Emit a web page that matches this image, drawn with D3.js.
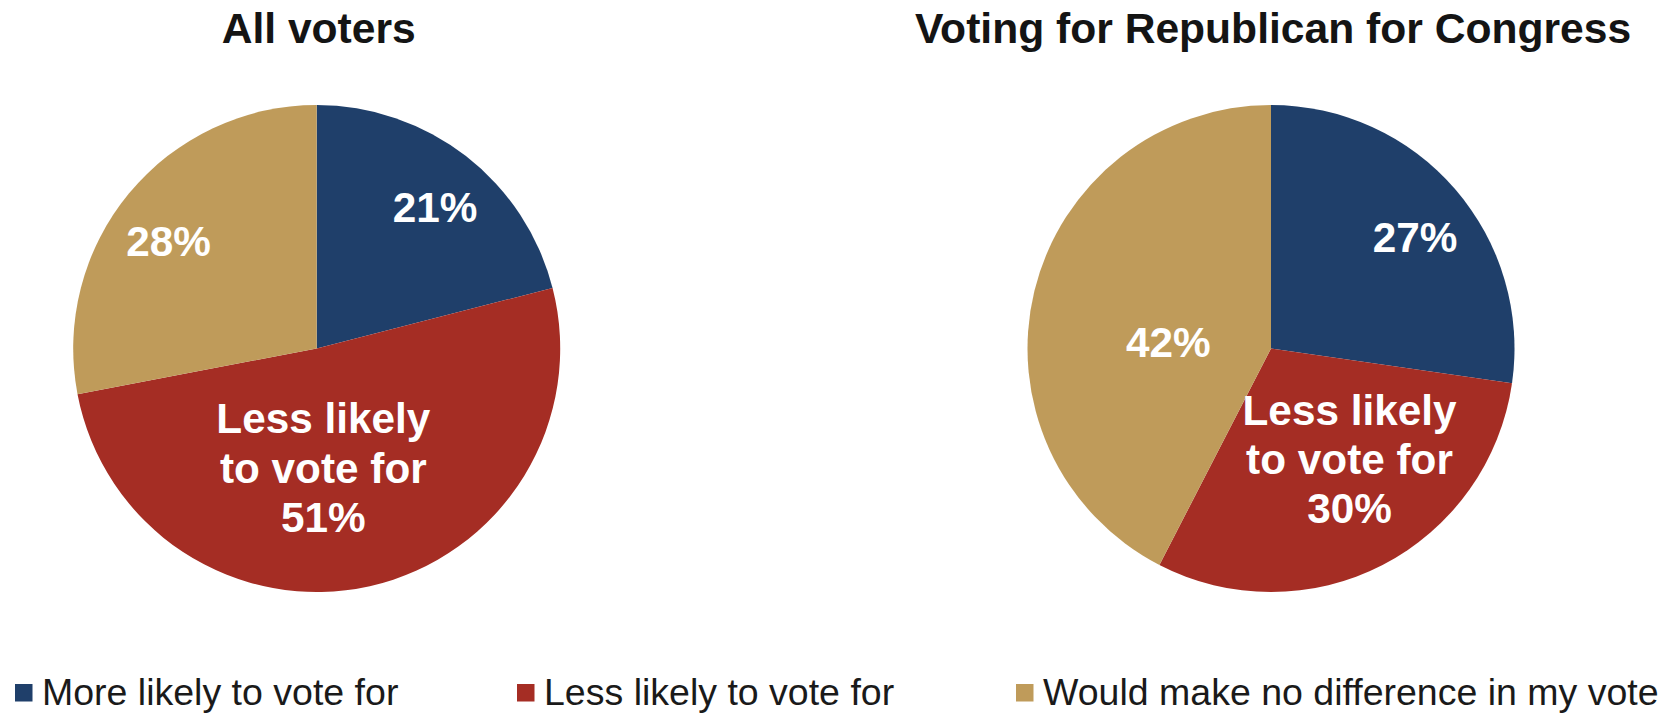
<!DOCTYPE html>
<html>
<head>
<meta charset="utf-8">
<script src="https://cdn.jsdelivr.net/npm/d3@7"></script>
<style>
  html, body { margin: 0; padding: 0; background: #fff; }
  svg { display: block; font-family: "Liberation Sans", Arial, sans-serif; }
</style>
</head>
<body>
<svg id="chart" width="1663" height="714"></svg>
<script>
// ---- data ----
const categories = ["More likely to vote for", "Less likely to vote for", "Would make no difference in my vote"];
const chartTitles = ["All voters", "Voting for Republican for Congress"];
const allVotersValues = [21, 51, 28];
const republicanValues = [27, 30, 42];
const sliceLabels = [
  [["21%"], ["Less likely", "to vote for", "51%"], ["28%"]],
  [["27%"], ["Less likely", "to vote for", "30%"], ["42%"]]
];
const seriesColors = ["#1f3f6a", "#a52d24", "#bf9b5a"];

// ---- layout ----
const svg = d3.select("#chart");
const radius = 243.5;
const centers = [[316.7, 348.5], [1271, 348.5]];
// label anchor offsets (first baseline) relative to pie center
const labelOffsets = [
  [[118.3, -126.8], [6.6, 84.8], [-148.2, -92.8]],
  [[144, -96.2], [78.5, 76.5], [-102.7, 8.2]]
];
const lineGap = 49.2;

const color = d3.scaleOrdinal().domain(categories).range(seriesColors);
const pie = d3.pie().sort(null).value(d => d.value);
const arc = d3.arc().innerRadius(0).outerRadius(radius);

[allVotersValues, republicanValues].forEach((vals, ci) => {
  const data = categories.map((c, i) => ({ cat: c, value: vals[i], idx: i }));
  const g = svg.append("g").attr("transform", `translate(${centers[ci][0]},${centers[ci][1]})`);

  g.selectAll("path.slice")
    .data(pie(data))
    .join("path")
    .attr("class", "slice")
    .attr("d", arc)
    .attr("fill", d => color(d.data.cat));

  g.selectAll("text.lbl")
    .data(pie(data))
    .join("text")
    .attr("class", "lbl")
    .attr("text-anchor", "middle")
    .attr("fill", "#ffffff")
    .attr("font-weight", "bold")
    .attr("font-size", 42.3)
    .each(function (d) {
      const off = labelOffsets[ci][d.data.idx];
      const lines = sliceLabels[ci][d.data.idx];
      const t = d3.select(this);
      lines.forEach((ln, li) => {
        t.append("tspan")
          .attr("x", off[0])
          .attr("y", off[1] + li * lineGap)
          .text(ln);
      });
    });

  svg.append("text")
    .attr("x", centers[ci][0] + 2)
    .attr("y", 42.5)
    .attr("text-anchor", "middle")
    .attr("font-weight", "bold")
    .attr("font-size", 42.6)
    .attr("fill", "#141414")
    .text(chartTitles[ci]);
});

// ---- legend ----
const legendX = [15, 517, 1016];
const legend = svg.append("g");
categories.forEach((c, i) => {
  legend.append("rect")
    .attr("x", legendX[i])
    .attr("y", 684)
    .attr("width", 17.5)
    .attr("height", 17.5)
    .attr("fill", color(c));
  legend.append("text")
    .attr("x", legendX[i] + 27)
    .attr("y", 705)
    .attr("font-size", 37.5)
    .attr("fill", "#1a1a1a")
    .text(c);
});
</script>
</body>
</html>
